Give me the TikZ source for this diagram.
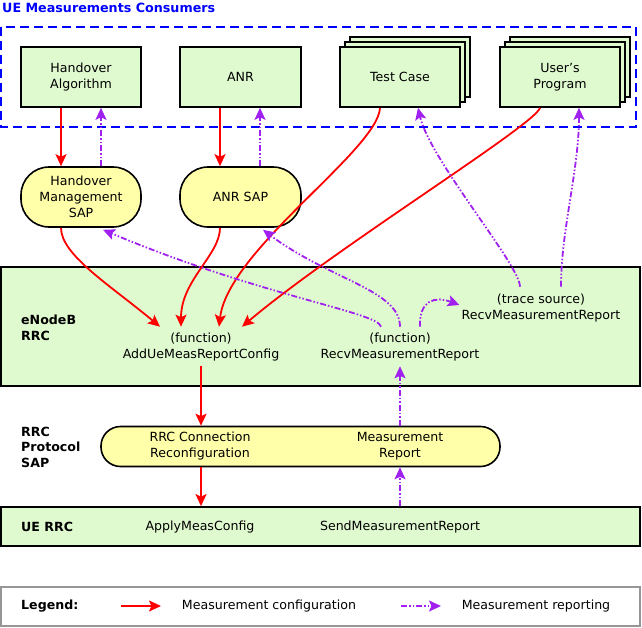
\documentclass[tikz,border=0pt]{standalone}
\usepackage{fontspec}
\setmainfont{DejaVu Sans}
\usetikzlibrary{arrows.meta}
\definecolor{boxgreen}{RGB}{224,250,208}
\definecolor{sapyellow}{RGB}{255,255,170}
\definecolor{cfgred}{RGB}{255,0,0}
\definecolor{reppurple}{RGB}{160,32,240}
\definecolor{titleblue}{RGB}{0,0,255}
\definecolor{legendgray}{RGB}{150,150,150}
\begin{document}
\begin{tikzpicture}[x=1pt,y=-1pt,
  every node/.style={font=\fontsize{12.6}{16}\selectfont},
  compbox/.style={draw=black, line width=1.6pt, fill=boxgreen, minimum width=120pt, minimum height=60pt, inner sep=0pt, align=center},
  sapbox/.style={draw=black, line width=1.6pt, fill=sapyellow, rounded corners=28pt, minimum width=120pt, minimum height=60pt, inner sep=0pt, align=center},
  layerbox/.style={draw=black, line width=1.8pt, fill=boxgreen, inner sep=0pt},
  lbl/.style={align=center, inner sep=2pt},
  sidelbl/.style={font=\fontsize{12.6}{15.5}\selectfont\bfseries, align=left, anchor=west, inner sep=0pt},
  tip/.style={-{Stealth[length=12pt,width=11pt,inset=2.5pt]}},
  cfg/.style={draw=cfgred, line width=1.8pt, tip},
  rep/.style={draw=reppurple, line width=1.8pt, dash pattern=on 6pt off 2pt on 1.5pt off 2pt on 1.5pt off 2pt, tip},
]
\useasboundingbox (0,0) rectangle (642,627);

% title and consumer frame
\node[font=\fontsize{12.7}{15}\selectfont\bfseries, text=titleblue, anchor=west, inner sep=0pt] (title) at (2,8) {UE Measurements Consumers};
\draw[titleblue, line width=2pt, dash pattern=on 9pt off 5pt] (1,27) rectangle (636,127);

% consumers
\node[compbox] (ha) at (81,77) {Handover\\Algorithm};
\node[compbox, minimum width=121pt] (anr) at (240.5,77) {ANR};
\node[compbox] (tc3) at (410,67) {};
\node[compbox] (tc2) at (405,72) {};
\node[compbox] (tc) at (400,77) {Test Case};
\node[compbox] (up3) at (570,67) {};
\node[compbox] (up2) at (565,72) {};
\node[compbox] (up) at (560,77) {User{\char"27}s\\Program};

% SAPs
\node[sapbox] (hm) at (81,197) {Handover\\Management\\SAP};
\node[sapbox, minimum width=121pt] (as) at (240.5,197) {ANR SAP};

% eNodeB RRC layer
\node[layerbox, minimum width=639pt, minimum height=119pt] (enb) at (320.5,326.5) {};
\node[sidelbl] (enblbl) at (21,328) {eNodeB\\RRC};
\node[lbl] (fa) at (201,347) {(function)\\AddUeMeasReportConfig};
\node[lbl] (fr) at (400,347) {(function)\\RecvMeasurementReport};
\node[lbl] (ts) at (541,308) {(trace source)\\RecvMeasurementReport};

% RRC protocol SAP
\node[sidelbl] (rpl) at (21,447) {RRC\\Protocol\\SAP};
\node[draw=black, line width=1.6pt, fill=sapyellow, rounded corners=19.5pt, minimum width=399pt, minimum height=40pt, inner sep=0pt] (rsap) at (300.5,446.5) {};
\node[lbl] (rc) at (200,446) {RRC Connection\\Reconfiguration};
\node[lbl] (mr) at (400,446) {Measurement\\Report};

% UE RRC layer
\node[layerbox, minimum width=639pt, minimum height=39pt] (ue) at (320.5,526.5) {};
\node[sidelbl] (uelbl) at (21,527) {UE RRC};
\node[lbl] (amc) at (200,527) {ApplyMeasConfig};
\node[lbl] (smr) at (400,527) {SendMeasurementReport};

% legend
\node[draw=legendgray, line width=1.2pt, fill=white, minimum width=639pt, minimum height=39pt, inner sep=0pt] (leg) at (320.5,606.5) {};
\node[sidelbl] (legl) at (21,606) {Legend:};
\coordinate (lc1) at (121,606);
\coordinate (lc2) at (161,606);
\coordinate (lr1) at (401,606);
\coordinate (lr2) at (441,606);
\node[lbl] (lct) at (269,606) {Measurement configuration};
\node[lbl] (lrt) at (536,606) {Measurement reporting};
\draw[cfg] (lc1) -- (lc2);
\draw[rep] (lr1) -- (lr2);

% configuration arrows
\draw[cfg] ([xshift=-20pt]ha.south) -- ([xshift=-20pt]hm.north);
\draw[cfg] ([xshift=-20.5pt]anr.south) -- ([xshift=-20.5pt]as.north);
\draw[cfg] ([xshift=-20pt]hm.south) .. controls (61,255) and (110,285) .. ([xshift=-41pt,yshift=4pt]fa.north);
\draw[cfg] ([xshift=-20.5pt]as.south) .. controls (220,255) and (181,280) .. ([xshift=-20pt,yshift=4pt]fa.north);
\draw[cfg] ([xshift=-20pt]tc.south) .. controls (378,150) and (228,250) .. ([xshift=18pt,yshift=4pt]fa.north);
\draw[cfg] ([xshift=-20pt]up.south) .. controls (535,125) and (335,248) .. ([xshift=41pt,yshift=4pt]fa.north);
\draw[cfg] ([yshift=-3pt]fa.south) -- (fa.south |- rsap.north);
\draw[cfg] (fa.south |- rsap.south) -- (fa.south |- ue.north);

% reporting arrows
\draw[rep] (fr.south |- ue.north) -- (fr.south |- rsap.south);
\draw[rep] (fr.south |- rsap.north) -- ([yshift=-3pt]fr.south);
\draw[rep] ([xshift=20pt]hm.north) -- ([xshift=20pt]ha.south);
\draw[rep] ([xshift=19.5pt]as.north) -- ([xshift=19.5pt]anr.south);
\draw[rep] ([xshift=-19pt,yshift=4pt]fr.north) .. controls (378,312) and (260,296) .. ([xshift=22pt,yshift=-2pt]hm.south);
\draw[rep] ([yshift=4pt]fr.north) .. controls (400,290) and (330,280) .. ([xshift=22.5pt,yshift=-2pt]as.south);
\draw[rep] ([xshift=20pt,yshift=4pt]fr.north) .. controls (419,300) and (435,296) .. ([yshift=3pt]ts.west);
\draw[rep] ([xshift=-21pt,yshift=5pt]ts.north) .. controls (520,265) and (430,160) .. ([xshift=18pt]tc.south);
\draw[rep] ([xshift=20pt,yshift=5pt]ts.north) .. controls (561,230) and (579,170) .. ([xshift=19pt]up.south);
\end{tikzpicture}
\end{document}
